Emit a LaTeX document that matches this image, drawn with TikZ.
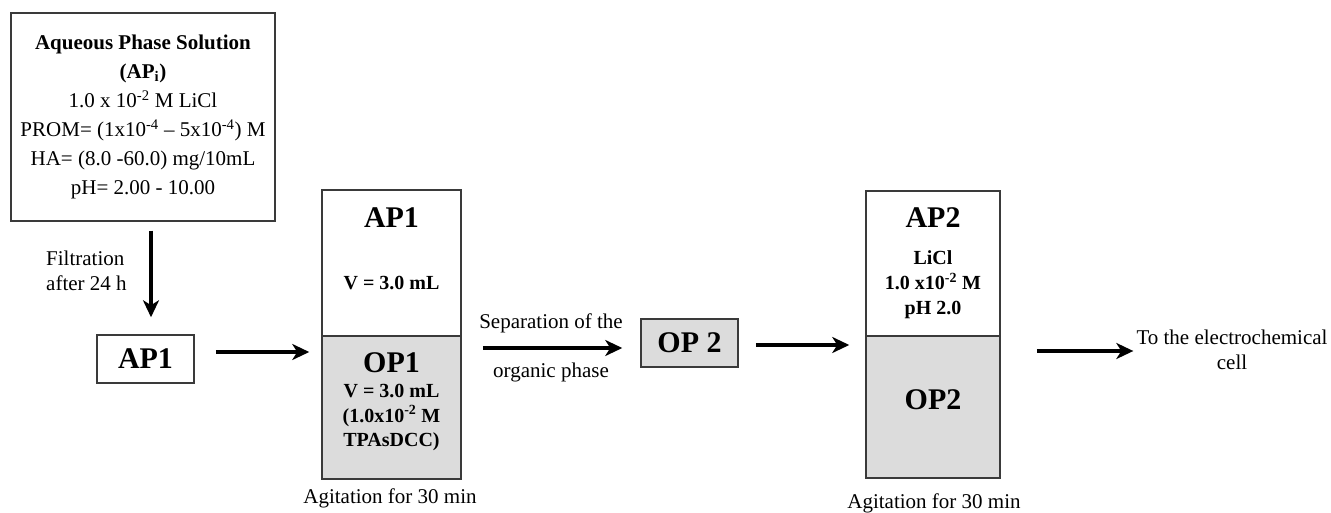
\documentclass[tikz,border=0pt]{standalone}
\usepackage{fontspec}
\setmainfont{Liberation Serif}
\usetikzlibrary{arrows.meta}
\definecolor{phasegray}{HTML}{DCDCDC}
\definecolor{edgegray}{HTML}{3A3A3A}
\tikzset{
  box/.style={draw=edgegray, line width=1.5pt, inner sep=0pt, rectangle},
  orgbox/.style={box, fill=phasegray},
  arr/.style={line width=4.8pt, -{Stealth[length=17pt,width=16pt,inset=5pt]}},
  big/.style={font=\fontsize{30}{34}\selectfont\bfseries, inner sep=0pt},
  small/.style={font=\fontsize{20}{24.5}\selectfont\bfseries, align=center, inner sep=0pt},
  plain/.style={font=\fontsize{21}{25}\selectfont, inner sep=0pt},
}
\begin{document}
\begin{tikzpicture}[x=1pt,y=-1pt]
\useasboundingbox (0,0) rectangle (1331,513);
% top box
\node[box, minimum width=264pt, minimum height=208pt, align=center,
      font=\fontsize{21}{29}\selectfont] (apin) at (143,117)
  {\textbf{Aqueous Phase Solution}\\
   \textbf{(AP\textsubscript{i})}\\
   1.0 x 10\textsuperscript{-2} M LiCl\\
   PROM= (1x10\textsuperscript{-4} -- 5x10\textsuperscript{-4}) M\\
   HA= (8.0 -60.0) mg/10mL\\
   pH= 2.00 - 10.00};
\node[plain, align=left, anchor=west] (filt) at (46,270.5) {Filtration\\after 24 h};
% AP1 small box
\node[box, minimum width=97pt, minimum height=48pt, big] (ap1small) at (145.5,359) {AP1};
% beaker 1
\node[box, minimum width=139pt, minimum height=146pt] (ap1box) at (391.5,263) {};
\node[orgbox, minimum width=139pt, minimum height=143pt] (op1box) at (391.5,407.5) {};
\node[big] (ap1lab) at (391.5,218) {AP1};
\node[small] (ap1v) at (391.5,283) {V = 3.0 mL};
\node[big] (op1lab) at (391.5,363) {OP1};
\node[small] (op1v) at (391.5,417.5) {V = 3.0 mL\\(1.0x10\textsuperscript{-2} M\\TPAsDCC)};
\node[plain] (agit1) at (390,498) {Agitation for 30 min};
% OP 2 small box
\node[orgbox, minimum width=97pt, minimum height=48pt, big] (op2small) at (689.5,343) {OP 2};
% beaker 2
\node[box, minimum width=134pt, minimum height=145pt] (ap2box) at (933,263.5) {};
\node[orgbox, minimum width=134pt, minimum height=142pt] (op2box) at (933,407) {};
\node[big] (ap2lab) at (933,218) {AP2};
\node[small, font=\fontsize{20}{25}\selectfont\bfseries] (ap2c) at (933,285) {LiCl\\1.0 x10\textsuperscript{-2} M\\pH 2.0};
\node[big] (op2lab) at (933,400) {OP2};
\node[plain] (agit2) at (934,503) {Agitation for 30 min};
% destination
\node[plain, align=center] (cell) at (1232,350) {To the electrochemical\\cell};
% arrows
\draw[arr, shorten <=9pt, shorten >=17pt] ([xshift=8pt]apin.south) -- ([xshift=8pt]apin.south |- ap1small.north);
\draw[arr, shorten <=21pt, shorten >=12pt] ([yshift=7pt]ap1small.east) -- ([yshift=7pt]ap1small.east -| op1box.west);
\draw[arr, shorten <=21pt, shorten >=18pt] ([yshift=-5pt]op2small.west -| op1box.east) -- ([yshift=-5pt]op2small.west)
  node[midway, plain, yshift=25pt] (sep1) {Separation of the}
  node[midway, plain, yshift=-24pt] (sep2) {organic phase};
\draw[arr, shorten <=17pt, shorten >=16pt] ([yshift=-2pt]op2small.east) -- ([yshift=-2pt]op2small.east -| ap2box.west);
\draw[arr, shorten <=36pt, shorten >=3pt] ([yshift=-1pt]cell.west -| ap2box.east) -- ([yshift=-1pt]cell.west);
\end{tikzpicture}
\end{document}
